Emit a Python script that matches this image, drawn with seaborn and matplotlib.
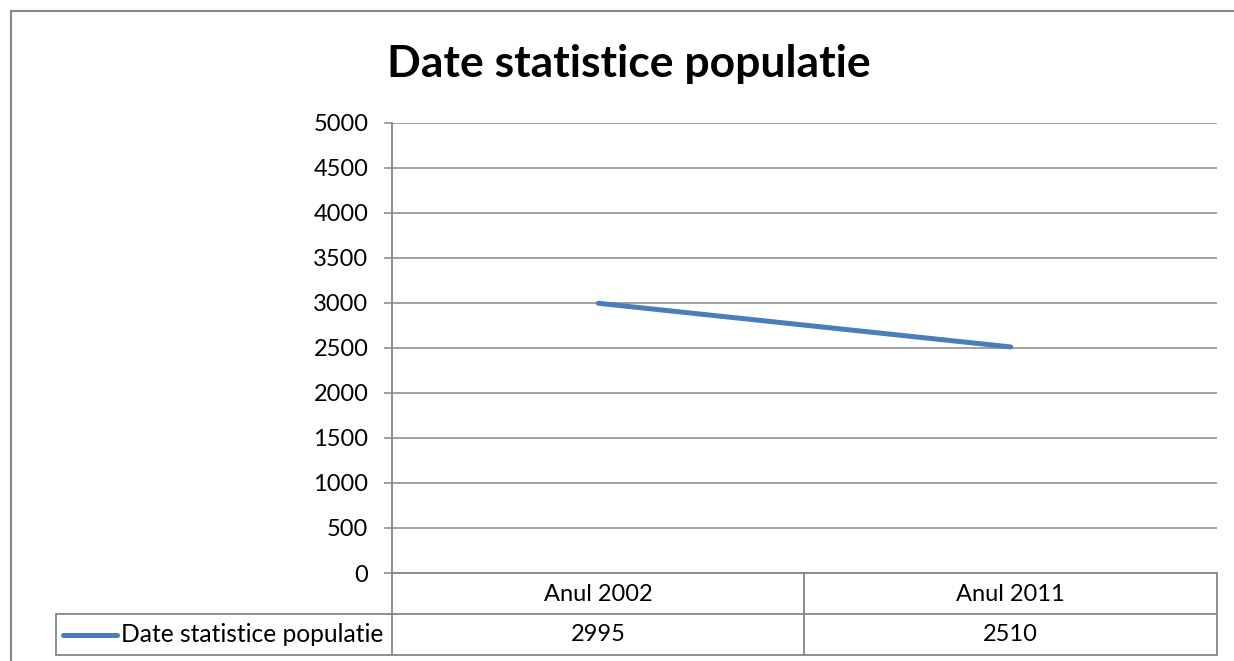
import matplotlib
matplotlib.use("Agg")
import matplotlib.pyplot as plt
import seaborn as sns
import pandas as pd
from matplotlib.patches import Rectangle
from matplotlib.lines import Line2D

# ---- data ----
categories = ["Anul 2002", "Anul 2011"]
values = [2995, 2510]
series_name = "Date statistice populatie"
title = "Date statistice populatie"
y_ticks = [0, 500, 1000, 1500, 2000, 2500, 3000, 3500, 4000, 4500, 5000]

df = pd.DataFrame({"an": categories, "val": values})

sns.set_style("white")
plt.rcParams["font.family"] = ["Lato", "DejaVu Sans"]

W, H = 1234, 661
fig = plt.figure(figsize=(W / 100, H / 100), dpi=100)

gray = "#868686"
blue = "#4A7EBB"

# plot area in pixels
L, R, T, B = 392, 1217, 122.7, 573
ax = fig.add_axes([L / W, 1 - B / H, (R - L) / W, (B - T) / H])

sns.lineplot(data=df, x="an", y="val", ax=ax, color=blue, linewidth=3.6,
             solid_capstyle="round", legend=False)

ax.set_xlim(-0.5, 1.5)
ax.set_ylim(0, 5000)
ax.set_yticks(y_ticks)
ax.set_yticklabels([str(v) for v in y_ticks])
ax.yaxis.grid(True, color=gray, linewidth=1.1)
ax.xaxis.grid(False)
ax.set_axisbelow(True)
for s in ["top", "right"]:
    ax.spines[s].set_visible(False)
for s in ["left", "bottom"]:
    ax.spines[s].set_color(gray)
    ax.spines[s].set_linewidth(1.3)
ax.tick_params(axis="y", direction="out", length=6, width=1.1, color=gray,
               pad=11, labelsize=17, labelcolor="black", left=True)
ax.tick_params(axis="x", length=0, pad=8, labelsize=17, labelcolor="black")
ax.set_xlabel("")
ax.set_ylabel("")

# ---- data table drawn below ----
def fx(px):
    return px / W

def fy(py):
    return 1 - py / H

row1_bot = 614
row2_bot = 655
leg_left = 56
mid = 804
tbl_kw = dict(color=gray, linewidth=1.3, transform=fig.transFigure)
fig.add_artist(Line2D([fx(leg_left), fx(R)], [fy(row1_bot)] * 2, **tbl_kw))
fig.add_artist(Line2D([fx(leg_left), fx(R)], [fy(row2_bot)] * 2, **tbl_kw))
for xv, y0 in [(L, B), (mid, B), (R, B), (leg_left, row1_bot)]:
    fig.add_artist(Line2D([fx(xv)] * 2, [fy(y0), fy(row2_bot)], **tbl_kw))

# values row
trans = ax.get_xaxis_transform()
yrow2 = -((row1_bot + row2_bot) / 2 - B) / (B - T)
for i, v in enumerate(values):
    ax.text(i, yrow2, str(v), transform=trans, ha="center", va="center",
            fontsize=17, color="black", clip_on=False)

# legend key in table
yk = fy((row1_bot + row2_bot) / 2)
fig.add_artist(Line2D([fx(63), fx(117)], [yk, yk], color=blue, linewidth=3.6,
                      solid_capstyle="round", transform=fig.transFigure))
fig.text(fx(121), yk, series_name, ha="left", va="center", fontsize=17.7,
         color="black")

# title
fig.text(fx(629), fy(64), title, ha="center", va="center", fontsize=32,
         fontweight="bold", color="black")

# outer chart border
fig.add_artist(Rectangle((fx(11), fy(H + 50)), fx(W + 50 - 11), fy(11) - fy(H + 50),
                         fill=False, edgecolor=gray, linewidth=1.5,
                         transform=fig.transFigure))

fig.savefig("out.png", dpi=100, facecolor="white")
